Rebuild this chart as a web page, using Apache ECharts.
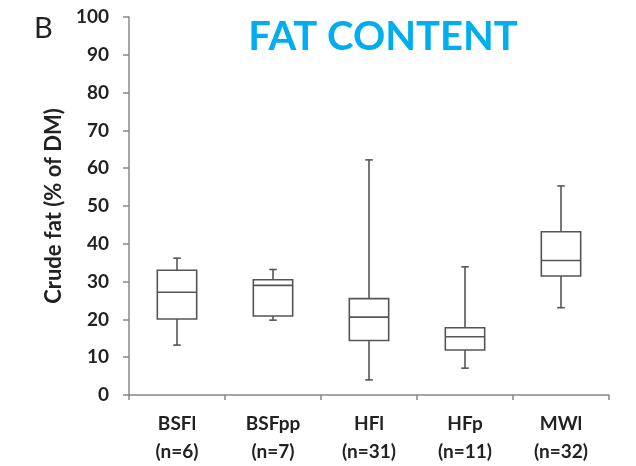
<!DOCTYPE html>
<html><head><meta charset="utf-8">
<script src="https://cdn.jsdelivr.net/npm/echarts@6/dist/echarts.min.js"></script>
<style>html,body{margin:0;padding:0;background:#fff}#c{width:636px;height:466px}</style>
</head><body><div id="c"></div>
<script>
var categories = ['BSFl', 'BSFpp', 'HFl', 'HFp', 'MWl'];
var sampleSizes = ['(n=6)', '(n=7)', '(n=31)', '(n=11)', '(n=32)'];
var mins    = [13.2, 19.8, 4.0, 7.1, 23.1];
var q1s     = [20.1, 20.9, 14.4, 11.9, 31.5];
var medians = [27.2, 29.0, 20.6, 15.4, 35.6];
var q3s     = [33.0, 30.5, 25.5, 17.8, 43.2];
var maxs    = [36.2, 33.2, 62.2, 33.9, 55.3];

var data = categories.map(function (c, i) {
  return [i, mins[i], q1s[i], medians[i], q3s[i], maxs[i]];
});
var font = 'Lato, "Open Sans", sans-serif';
var boxColor = '#555';

var chart = echarts.init(document.getElementById('c'), null, {renderer: 'canvas'});
chart.setOption({
  animation: false,
  title: [
    {text: 'FAT CONTENT', left: 378, top: 12, textAlign: 'center',
     textStyle: {color: '#00AEEF', fontSize: 40, fontWeight: 'bold', fontFamily: font}},
    {text: 'B', left: 29, top: 9,
     textStyle: {color: '#222', fontSize: 29, fontWeight: 'normal', fontFamily: font}}
  ],
  grid: {left: 129, right: 27, top: 17, bottom: 69},
  xAxis: {
    type: 'category',
    data: categories.map(function (c, i) { return c + '\n' + sampleSizes[i]; }),
    boundaryGap: true,
    axisLine: {lineStyle: {color: '#888', width: 1.5}},
    axisTick: {show: true, alignWithLabel: false, length: 5, lineStyle: {color: '#888', width: 1.5}},
    axisLabel: {color: '#222', fontSize: 19, fontWeight: 'bold', fontFamily: font, margin: 15, lineHeight: 28}
  },
  yAxis: {
    type: 'value', min: 0, max: 100, interval: 10,
    name: 'Crude fat (% of DM)', nameLocation: 'middle', nameGap: 58, nameRotate: 90,
    nameTextStyle: {color: '#222', fontSize: 22, fontWeight: 'bold', fontFamily: font},
    axisLine: {show: true, lineStyle: {color: '#888', width: 1.5}},
    axisTick: {show: true, length: 6, lineStyle: {color: '#888', width: 1.5}},
    splitLine: {show: false},
    axisLabel: {color: '#222', fontSize: 19, fontWeight: 'bold', fontFamily: font, margin: 20}
  },
  series: [{
    type: 'custom',
    data: data,
    renderItem: function (params, api) {
      var i = api.value(0);
      var pMin = api.coord([i, api.value(1)]);
      var pQ1 = api.coord([i, api.value(2)]);
      var pMed = api.coord([i, api.value(3)]);
      var pQ3 = api.coord([i, api.value(4)]);
      var pMax = api.coord([i, api.value(5)]);
      var bw = api.size([1, 0])[0] * 0.41;
      var cw = 7.5;
      var x = pMed[0];
      var st = {stroke: boxColor, lineWidth: 1.6, fill: null};
      return {
        type: 'group',
        children: [
          {type: 'line', shape: {x1: x, y1: pMax[1], x2: x, y2: pQ3[1]}, style: st},
          {type: 'line', shape: {x1: x, y1: pQ1[1], x2: x, y2: pMin[1]}, style: st},
          {type: 'line', shape: {x1: x - cw / 2, y1: pMax[1], x2: x + cw / 2, y2: pMax[1]}, style: st},
          {type: 'line', shape: {x1: x - cw / 2, y1: pMin[1], x2: x + cw / 2, y2: pMin[1]}, style: st},
          {type: 'rect', shape: {x: x - bw / 2, y: pQ3[1], width: bw, height: pQ1[1] - pQ3[1]},
           style: {stroke: boxColor, lineWidth: 1.6, fill: '#fff'}},
          {type: 'line', shape: {x1: x - bw / 2, y1: pMed[1], x2: x + bw / 2, y2: pMed[1]}, style: st}
        ]
      };
    }
  }]
});
</script></body></html>
